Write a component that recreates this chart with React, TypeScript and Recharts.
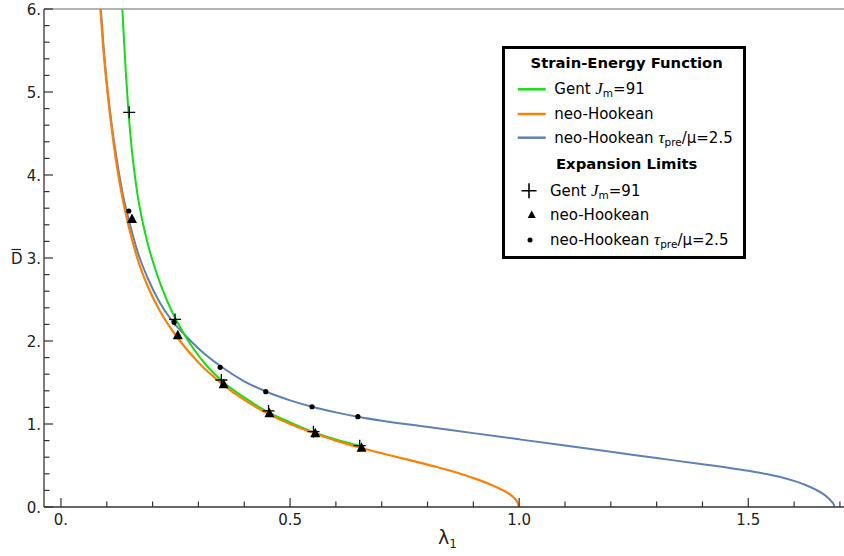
import { ComposedChart, Line, Scatter, XAxis, YAxis, Legend, Label } from 'recharts'

// tick values
const xTicks = [0, 0.1, 0.2, 0.3, 0.4, 0.5, 0.6, 0.7, 0.8, 0.9, 1, 1.1, 1.2, 1.3, 1.4, 1.5, 1.6, 1.7]
const xMajor = [0, 0.5, 1, 1.5]
const yTicks = [
  0, 0.2, 0.4, 0.6, 0.8, 1, 1.2, 1.4, 1.6, 1.8, 2, 2.2, 2.4, 2.6, 2.8, 3, 3.2, 3.4, 3.6, 3.8,
  4, 4.2, 4.4, 4.6, 4.8, 5, 5.2, 5.4, 5.6, 5.8, 6,
]
const yMajor = [0, 1, 2, 3, 4, 5, 6]

// curves, [lambda1, Dbar]
const gentCurve: [number, number][] = [
  [0.134, 6.0], [0.138, 5.58], [0.142, 5.2], [0.147, 4.79], [0.153, 4.4], [0.16, 4.05],
  [0.168, 3.73], [0.178, 3.44], [0.19, 3.16], [0.205, 2.88], [0.222, 2.615], [0.24, 2.38],
  [0.26, 2.17], [0.29, 1.9], [0.32, 1.69], [0.35, 1.525], [0.4, 1.32], [0.45, 1.15],
  [0.5, 1.02], [0.55, 0.905], [0.6, 0.815], [0.658, 0.73],
]

const neoCurve: [number, number][] = [
  [0.086, 6.0], [0.092, 5.55], [0.1, 5.08], [0.11, 4.59], [0.12, 4.18], [0.135, 3.7],
  [0.15, 3.33], [0.17, 2.94], [0.19, 2.65], [0.215, 2.37], [0.24, 2.15], [0.27, 1.93],
  [0.3, 1.74], [0.35, 1.49], [0.4, 1.29], [0.45, 1.13], [0.5, 1.0], [0.55, 0.895],
  [0.6, 0.8], [0.65, 0.72], [0.7, 0.648], [0.75, 0.58], [0.785, 0.532], [0.82, 0.482],
  [0.85, 0.436], [0.88, 0.386], [0.91, 0.33], [0.94, 0.265], [0.96, 0.215], [0.975, 0.17],
  [0.988, 0.115], [0.996, 0.06], [1.0, 0],
]

const neoPreCurve: [number, number][] = [
  [0.087, 6.0], [0.093, 5.55], [0.1, 5.12], [0.11, 4.64], [0.12, 4.25], [0.135, 3.77],
  [0.15, 3.42], [0.17, 3.03], [0.19, 2.75], [0.215, 2.47], [0.24, 2.26], [0.27, 2.075],
  [0.3, 1.91], [0.35, 1.69], [0.4, 1.515], [0.45, 1.385], [0.5, 1.285], [0.55, 1.205],
  [0.6, 1.14], [0.65, 1.085], [0.7, 1.04], [0.785, 0.975], [0.9, 0.89], [1.0, 0.815],
  [1.1, 0.74], [1.2, 0.665], [1.3, 0.59], [1.4, 0.515], [1.45, 0.478], [1.5, 0.437],
  [1.54, 0.397], [1.57, 0.362], [1.6, 0.315], [1.625, 0.265], [1.645, 0.215],
  [1.66, 0.17], [1.672, 0.12], [1.681, 0.07], [1.6865, 0.03], [1.688, 0],
]

// expansion limit markers
const gentLimits: [number, number][] = [
  [0.149, 4.755], [0.249, 2.26], [0.35, 1.53], [0.453, 1.157], [0.551, 0.907], [0.652, 0.739],
]
const neoLimits: [number, number][] = [
  [0.155, 3.47], [0.255, 2.07], [0.355, 1.478], [0.455, 1.13], [0.555, 0.888], [0.656, 0.715],
]
const neoPreLimits: [number, number][] = [
  [0.148, 3.566], [0.247, 2.225], [0.3475, 1.683], [0.447, 1.39], [0.548, 1.208], [0.648, 1.088],
]

const toPts = (a: [number, number][]) => a.map(([x, y]) => ({ x, y }))

const GREEN = '#10e010'
const ORANGE = '#ff8000'
const BLUE = '#5e81b5'
const SANS = '"DejaVu Sans", sans-serif'
const SERIF = '"Liberation Serif", serif'

const fmtX = (v: number) => (v === 0 ? '0.' : v.toFixed(1))

function BottomTick(props: any) {
  const { x, y, payload } = props
  const major = xMajor.includes(payload.value)
  return (
    <g>
      <line x1={x} x2={x} y1={y} y2={y - (major ? 9 : 5.5)} stroke="#333" strokeWidth={1.2} />
      {major && (
        <text x={x} y={y + 18} textAnchor="middle" fontSize={15} fill="#222" fontFamily={SANS}>
          {fmtX(payload.value)}
        </text>
      )}
    </g>
  )
}

function TopTick(props: any) {
  const { x, y, payload } = props
  const major = xMajor.includes(payload.value)
  return <line x1={x} x2={x} y1={y} y2={y + (major ? 9 : 5.5)} stroke="#444" strokeWidth={1.2} />
}

function LeftTick(props: any) {
  const { x, y, payload } = props
  const major = yMajor.includes(payload.value)
  return (
    <g>
      <line x1={x} x2={x + (major ? 9 : 5.5)} y1={y} y2={y} stroke="#333" strokeWidth={1.2} />
      {major && (
        <text x={x - 3} y={y + 5.5} textAnchor="end" fontSize={15} fill="#222" fontFamily={SANS}>
          {payload.value + '.'}
        </text>
      )}
    </g>
  )
}

function RightTick(props: any) {
  const { x, y, payload } = props
  const major = yMajor.includes(payload.value)
  return <line x1={x} x2={x - (major ? 9 : 5.5)} y1={y} y2={y} stroke="#bbb" strokeWidth={1.2} />
}

const CrossShape = (p: any) => (
  <path d={`M${p.cx - 6},${p.cy}H${p.cx + 6}M${p.cx},${p.cy - 6}V${p.cy + 6}`} stroke="#000" strokeWidth={1.3} fill="none" />
)
const TriShape = (p: any) => (
  <polygon points={`${p.cx},${p.cy - 5.5} ${p.cx - 5},${p.cy + 4} ${p.cx + 5},${p.cy + 4}`} fill="#000" />
)
const DotShape = (p: any) => <circle cx={p.cx} cy={p.cy} r={2.6} fill="#000" />

function GentText({ x, y }: { x: number; y: number }) {
  return (
    <text x={x} y={y + 5} fontSize={15} fontFamily={SANS} fill="#000">
      Gent <tspan fontFamily={SERIF} fontStyle="italic" fontSize={17}>J</tspan>
      <tspan fontSize={10.5} dy={3}>m</tspan>
      <tspan dy={-3}>=91</tspan>
    </text>
  )
}

function PreText({ x, y }: { x: number; y: number }) {
  return (
    <text x={x} y={y + 5} fontSize={15} fontFamily={SANS} fill="#000">
      neo-Hookean <tspan fontFamily={SERIF} fontStyle="italic" fontSize={17}>τ</tspan>
      <tspan fontSize={10.5} dy={3}>pre</tspan>
      <tspan dy={-3}>/μ=2.5</tspan>
    </text>
  )
}

function LegendBox() {
  return (
    <svg width={244} height={213} style={{ display: 'block' }}>
      <rect x={1.5} y={1.5} width={241} height={210} fill="#fff" stroke="#000" strokeWidth={3} />
      <text x={124.7} y={22} textAnchor="middle" fontSize={14.8} fontWeight="bold" fontFamily={SANS}>
        Strain-Energy Function
      </text>
      <line x1={15.7} x2={43.7} y1={43.3} y2={43.3} stroke={GREEN} strokeWidth={2.5} />
      <GentText x={52.3} y={43.3} />
      <line x1={15.7} x2={43.7} y1={68} y2={68} stroke={ORANGE} strokeWidth={2.5} />
      <text x={52.3} y={73} fontSize={15} fontFamily={SANS}>neo-Hookean</text>
      <line x1={15.7} x2={43.7} y1={91.7} y2={91.7} stroke={BLUE} strokeWidth={2.5} />
      <PreText x={52.3} y={91.7} />
      <text x={124.7} y={123.3} textAnchor="middle" fontSize={14.8} fontWeight="bold" fontFamily={SANS}>
        Expansion Limits
      </text>
      <path d="M19.5,144.7H34.5M27,137.2V152.2" stroke="#000" strokeWidth={1.6} />
      <GentText x={48} y={144.7} />
      <polygon points="29.7,164.5 25.7,172 33.7,172" fill="#000" />
      <text x={48} y={174} fontSize={15} fontFamily={SANS}>neo-Hookean</text>
      <circle cx={28} cy={194} r={2.5} fill="#000" />
      <PreText x={48} y={194} />
    </svg>
  )
}

function XLabel(props: any) {
  const { viewBox } = props
  const cx = viewBox.x + viewBox.width / 2
  return (
    <text x={cx - 9} y={viewBox.y + 37} fontSize={19} fontFamily={SANS} fill="#222">
      λ<tspan fontSize={12} dy={4}>1</tspan>
    </text>
  )
}

function YLabel(props: any) {
  const { viewBox } = props
  const cy = viewBox.y + viewBox.height / 2
  return (
    <g>
      <text x={11} y={cy + 6} fontSize={15} fontFamily={SANS} fill="#222">D</text>
      <line x1={11.5} x2={21} y1={cy - 8.5} y2={cy - 8.5} stroke="#222" strokeWidth={1.2} />
    </g>
  )
}

export default function App() {
  return (
    <div style={{ position: 'absolute', left: 0, top: 0, width: 844, height: 556, overflow: 'hidden', background: '#fff' }}>
      <ComposedChart width={850} height={556} margin={{ top: 0, right: 0, bottom: 0, left: 0 }}>
        <XAxis
          dataKey="x"
          type="number"
          domain={[-0.037, 1.722]}
          ticks={xTicks}
          interval={0}
          tickSize={0}
          tickMargin={0}
          tickLine={false}
          tick={<BottomTick />}
          height={49}
          axisLine={{ stroke: '#333', strokeWidth: 1.3 }}
        >
          <Label content={<XLabel />} />
        </XAxis>
        <XAxis
          xAxisId="top"
          orientation="top"
          dataKey="x"
          type="number"
          domain={[-0.037, 1.722]}
          ticks={xTicks}
          interval={0}
          tickSize={0}
          tickMargin={0}
          tickLine={false}
          tick={<TopTick />}
          height={9}
          axisLine={{ stroke: '#999', strokeWidth: 1.5 }}
        />
        <YAxis
          type="number"
          domain={[0, 6]}
          ticks={yTicks}
          interval={0}
          tickSize={0}
          tickMargin={0}
          tickLine={false}
          tick={<LeftTick />}
          width={44}
          axisLine={{ stroke: '#333', strokeWidth: 1.3 }}
        >
          <Label content={<YLabel />} />
        </YAxis>
        <YAxis
          yAxisId="right"
          orientation="right"
          type="number"
          domain={[0, 6]}
          ticks={yTicks}
          interval={0}
          tickSize={0}
          tickMargin={0}
          tickLine={false}
          tick={<RightTick />}
          width={0}
          axisLine={{ stroke: '#ccc' }}
        />
        <Line data={toPts(neoPreCurve)} dataKey="y" type="monotone" stroke={BLUE} strokeWidth={2} dot={false} activeDot={false} isAnimationActive={false} />
        <Line data={toPts(gentCurve)} dataKey="y" type="monotone" stroke={GREEN} strokeWidth={2} dot={false} activeDot={false} isAnimationActive={false} />
        <Line data={toPts(neoCurve)} dataKey="y" type="monotone" stroke={ORANGE} strokeWidth={2.2} dot={false} activeDot={false} isAnimationActive={false} />
        <Scatter data={toPts(gentLimits)} dataKey="y" shape={CrossShape} isAnimationActive={false} />
        <Scatter data={toPts(neoLimits)} dataKey="y" shape={TriShape} isAnimationActive={false} />
        <Scatter data={toPts(neoPreLimits)} dataKey="y" shape={DotShape} isAnimationActive={false} />
        <Legend
          layout="vertical"
          align="center"
          verticalAlign="middle"
          content={() => <LegendBox />}
          wrapperStyle={{ left: 502, top: 46, width: 244, height: 213 }}
        />
      </ComposedChart>
    </div>
  )
}
